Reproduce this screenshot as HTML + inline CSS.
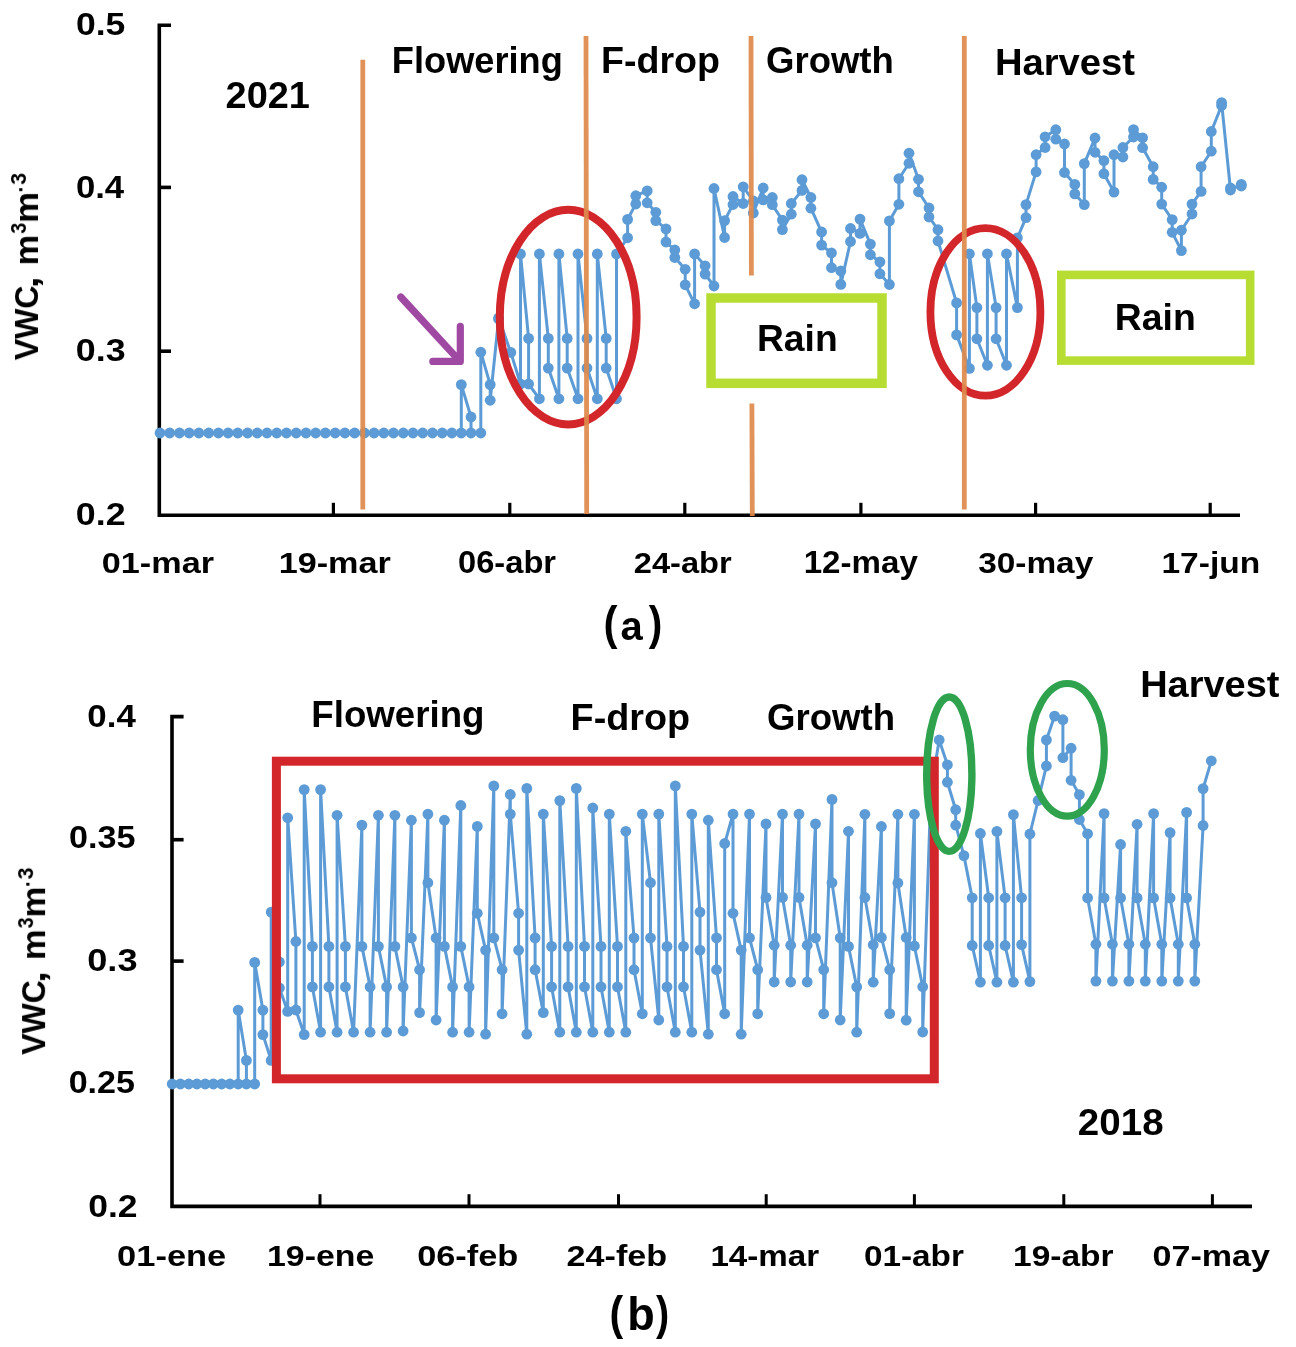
<!DOCTYPE html>
<html><head><meta charset="utf-8"><title>VWC chart</title>
<style>
html,body{margin:0;padding:0;background:#fff;}
body{width:1296px;height:1347px;overflow:hidden;font-family:"Liberation Sans",sans-serif;}
svg{display:block;font-family:"Liberation Sans",sans-serif;}
text{fill:#000;font-family:"Liberation Sans",sans-serif;}
</style></head><body>
<svg width="1296" height="1347" viewBox="0 0 1296 1347">
<defs><filter id="soft" filterUnits="userSpaceOnUse" x="0" y="0" width="1296" height="1347"><feGaussianBlur stdDeviation="0.4"/></filter></defs>
<rect width="1296" height="1347" fill="#fff"/>
<g filter="url(#soft)">
<path d="M171,25.2 H159.3 V515.3 H1240" fill="none" stroke="#000" stroke-width="3.6"/>
<line x1="159" y1="187.4" x2="171" y2="187.4" stroke="#000" stroke-width="3.6"/>
<line x1="159" y1="351.2" x2="171" y2="351.2" stroke="#000" stroke-width="3.6"/>
<line x1="333.4" y1="515" x2="333.4" y2="502.8" stroke="#000" stroke-width="3.2"/>
<line x1="509.8" y1="515" x2="509.8" y2="502.8" stroke="#000" stroke-width="3.2"/>
<line x1="684.8" y1="515" x2="684.8" y2="502.8" stroke="#000" stroke-width="3.2"/>
<line x1="860.9" y1="515" x2="860.9" y2="502.8" stroke="#000" stroke-width="3.2"/>
<line x1="1035.6" y1="515" x2="1035.6" y2="502.8" stroke="#000" stroke-width="3.2"/>
<line x1="1210.2" y1="515" x2="1210.2" y2="502.8" stroke="#000" stroke-width="3.2"/>
<path d="M160.0,433.0 L169.7,433.0 L179.5,433.0 L189.2,433.0 L198.9,433.0 L208.7,433.0 L218.4,433.0 L228.1,433.0 L237.8,433.0 L247.6,433.0 L257.3,433.0 L267.0,433.0 L276.8,433.0 L286.5,433.0 L296.2,433.0 L306.0,433.0 L315.7,433.0 L325.4,433.0 L335.2,433.0 L344.9,433.0 L354.6,433.0 L364.4,433.0 L374.1,433.0 L383.8,433.0 L393.5,433.0 L403.3,433.0 L413.0,433.0 L422.7,433.0 L432.5,433.0 L442.2,433.0 L451.9,433.0 L461.3,433.0 L461.3,384.6 L471.0,417.0 L471.0,433.0 L480.8,433.0 L480.8,352.2 L490.2,384.6 L490.2,400.3 L498.6,319.0 L498.6,318.0 L510.8,352.4 L520.5,384.0 L520.5,254.0 L528.6,338.4 L528.6,384.0 L539.4,398.8 L539.4,254.0 L548.3,338.4 L548.3,368.1 L558.9,398.8 L558.9,254.0 L567.2,338.4 L567.2,368.1 L578.0,398.8 L578.0,254.0 L587.0,338.4 L587.0,368.1 L597.3,398.8 L597.3,254.0 L606.2,338.4 L606.2,368.1 L616.5,398.8 L616.5,254.0 L627.6,237.8 L627.6,219.4 L635.8,204.0 L635.8,195.7 L647.2,190.9 L647.2,202.8 L655.8,212.3 L655.8,220.6 L666.0,228.9 L666.0,242.0 L674.8,250.0 L674.8,257.5 L685.2,269.3 L685.2,284.8 L694.6,303.8 L694.6,253.9 L705.1,265.8 L705.1,274.1 L714.0,286.0 L714.0,188.5 L724.6,237.5 L724.6,220.6 L733.0,204.5 L733.0,196.5 L743.2,203.5 L743.2,186.8 L753.3,201.0 L753.3,213.0 L763.2,188.0 L763.2,199.9 L772.3,197.5 L772.3,204.7 L782.4,220.1 L782.4,229.6 L791.3,214.2 L791.3,203.5 L802.0,190.4 L802.0,179.7 L810.9,197.5 L810.9,208.2 L821.6,232.0 L821.6,245.1 L831.5,253.0 L831.5,267.7 L840.8,271.0 L840.8,284.4 L850.5,241.5 L850.5,228.5 L860.0,233.4 L860.0,219.1 L870.4,244.1 L870.4,254.8 L879.9,261.9 L879.9,273.8 L889.4,284.5 L889.4,220.9 L898.9,204.3 L898.9,178.7 L909.0,163.3 L909.0,153.2 L918.5,179.3 L918.5,191.8 L929.0,208.0 L929.0,217.0 L938.0,229.7 L938.0,241.0 L956.6,302.9 L956.6,334.9 L969.4,368.4 L969.4,253.8 L976.9,307.6 L976.9,338.8 L987.4,365.3 L987.4,253.8 L996.1,307.6 L996.1,338.8 L1006.5,365.3 L1006.5,253.8 L1017.4,307.6 L1017.4,237.8 L1026.0,217.6 L1026.0,204.6 L1036.1,171.9 L1036.1,154.7 L1045.1,147.5 L1045.1,136.8 L1055.8,129.7 L1055.8,139.2 L1064.5,144.0 L1064.5,172.5 L1074.8,184.4 L1074.8,193.9 L1084.3,204.6 L1084.3,163.6 L1095.0,138.0 L1095.0,152.3 L1103.9,160.6 L1103.9,173.7 L1114.0,192.1 L1114.0,154.7 L1122.9,157.0 L1122.9,147.5 L1133.5,137.0 L1133.5,129.6 L1142.6,137.8 L1142.6,147.7 L1153.2,166.7 L1153.2,179.4 L1161.7,187.2 L1161.7,204.1 L1172.2,219.6 L1172.2,232.3 L1181.4,250.6 L1181.4,230.2 L1192.0,214.0 L1192.0,204.1 L1201.1,191.4 L1201.1,166.7 L1211.3,151.2 L1211.3,131.5 L1221.6,105.5 L1221.6,102.6 L1230.5,190.0 L1230.5,188.0 L1241.3,186.0 L1241.3,184.3" fill="none" stroke="#5b9bd5" stroke-width="3.0" stroke-linejoin="round"/>
<g fill="#5b9bd5"><circle cx="160.0" cy="433.0" r="5.4"/><circle cx="169.7" cy="433.0" r="5.4"/><circle cx="179.5" cy="433.0" r="5.4"/><circle cx="189.2" cy="433.0" r="5.4"/><circle cx="198.9" cy="433.0" r="5.4"/><circle cx="208.7" cy="433.0" r="5.4"/><circle cx="218.4" cy="433.0" r="5.4"/><circle cx="228.1" cy="433.0" r="5.4"/><circle cx="237.8" cy="433.0" r="5.4"/><circle cx="247.6" cy="433.0" r="5.4"/><circle cx="257.3" cy="433.0" r="5.4"/><circle cx="267.0" cy="433.0" r="5.4"/><circle cx="276.8" cy="433.0" r="5.4"/><circle cx="286.5" cy="433.0" r="5.4"/><circle cx="296.2" cy="433.0" r="5.4"/><circle cx="306.0" cy="433.0" r="5.4"/><circle cx="315.7" cy="433.0" r="5.4"/><circle cx="325.4" cy="433.0" r="5.4"/><circle cx="335.2" cy="433.0" r="5.4"/><circle cx="344.9" cy="433.0" r="5.4"/><circle cx="354.6" cy="433.0" r="5.4"/><circle cx="364.4" cy="433.0" r="5.4"/><circle cx="374.1" cy="433.0" r="5.4"/><circle cx="383.8" cy="433.0" r="5.4"/><circle cx="393.5" cy="433.0" r="5.4"/><circle cx="403.3" cy="433.0" r="5.4"/><circle cx="413.0" cy="433.0" r="5.4"/><circle cx="422.7" cy="433.0" r="5.4"/><circle cx="432.5" cy="433.0" r="5.4"/><circle cx="442.2" cy="433.0" r="5.4"/><circle cx="451.9" cy="433.0" r="5.4"/><circle cx="461.3" cy="433.0" r="5.4"/><circle cx="461.3" cy="384.6" r="5.4"/><circle cx="471.0" cy="417.0" r="5.4"/><circle cx="471.0" cy="433.0" r="5.4"/><circle cx="480.8" cy="433.0" r="5.4"/><circle cx="480.8" cy="352.2" r="5.4"/><circle cx="490.2" cy="384.6" r="5.4"/><circle cx="490.2" cy="400.3" r="5.4"/><circle cx="498.6" cy="319.0" r="5.4"/><circle cx="498.6" cy="318.0" r="5.4"/><circle cx="510.8" cy="352.4" r="5.4"/><circle cx="520.5" cy="384.0" r="5.4"/><circle cx="520.5" cy="254.0" r="5.4"/><circle cx="528.6" cy="338.4" r="5.4"/><circle cx="528.6" cy="384.0" r="5.4"/><circle cx="539.4" cy="398.8" r="5.4"/><circle cx="539.4" cy="254.0" r="5.4"/><circle cx="548.3" cy="338.4" r="5.4"/><circle cx="548.3" cy="368.1" r="5.4"/><circle cx="558.9" cy="398.8" r="5.4"/><circle cx="558.9" cy="254.0" r="5.4"/><circle cx="567.2" cy="338.4" r="5.4"/><circle cx="567.2" cy="368.1" r="5.4"/><circle cx="578.0" cy="398.8" r="5.4"/><circle cx="578.0" cy="254.0" r="5.4"/><circle cx="587.0" cy="338.4" r="5.4"/><circle cx="587.0" cy="368.1" r="5.4"/><circle cx="597.3" cy="398.8" r="5.4"/><circle cx="597.3" cy="254.0" r="5.4"/><circle cx="606.2" cy="338.4" r="5.4"/><circle cx="606.2" cy="368.1" r="5.4"/><circle cx="616.5" cy="398.8" r="5.4"/><circle cx="616.5" cy="254.0" r="5.4"/><circle cx="627.6" cy="237.8" r="5.4"/><circle cx="627.6" cy="219.4" r="5.4"/><circle cx="635.8" cy="204.0" r="5.4"/><circle cx="635.8" cy="195.7" r="5.4"/><circle cx="647.2" cy="190.9" r="5.4"/><circle cx="647.2" cy="202.8" r="5.4"/><circle cx="655.8" cy="212.3" r="5.4"/><circle cx="655.8" cy="220.6" r="5.4"/><circle cx="666.0" cy="228.9" r="5.4"/><circle cx="666.0" cy="242.0" r="5.4"/><circle cx="674.8" cy="250.0" r="5.4"/><circle cx="674.8" cy="257.5" r="5.4"/><circle cx="685.2" cy="269.3" r="5.4"/><circle cx="685.2" cy="284.8" r="5.4"/><circle cx="694.6" cy="303.8" r="5.4"/><circle cx="694.6" cy="253.9" r="5.4"/><circle cx="705.1" cy="265.8" r="5.4"/><circle cx="705.1" cy="274.1" r="5.4"/><circle cx="714.0" cy="286.0" r="5.4"/><circle cx="714.0" cy="188.5" r="5.4"/><circle cx="724.6" cy="237.5" r="5.4"/><circle cx="724.6" cy="220.6" r="5.4"/><circle cx="733.0" cy="204.5" r="5.4"/><circle cx="733.0" cy="196.5" r="5.4"/><circle cx="743.2" cy="203.5" r="5.4"/><circle cx="743.2" cy="186.8" r="5.4"/><circle cx="753.3" cy="201.0" r="5.4"/><circle cx="753.3" cy="213.0" r="5.4"/><circle cx="763.2" cy="188.0" r="5.4"/><circle cx="763.2" cy="199.9" r="5.4"/><circle cx="772.3" cy="197.5" r="5.4"/><circle cx="772.3" cy="204.7" r="5.4"/><circle cx="782.4" cy="220.1" r="5.4"/><circle cx="782.4" cy="229.6" r="5.4"/><circle cx="791.3" cy="214.2" r="5.4"/><circle cx="791.3" cy="203.5" r="5.4"/><circle cx="802.0" cy="190.4" r="5.4"/><circle cx="802.0" cy="179.7" r="5.4"/><circle cx="810.9" cy="197.5" r="5.4"/><circle cx="810.9" cy="208.2" r="5.4"/><circle cx="821.6" cy="232.0" r="5.4"/><circle cx="821.6" cy="245.1" r="5.4"/><circle cx="831.5" cy="253.0" r="5.4"/><circle cx="831.5" cy="267.7" r="5.4"/><circle cx="840.8" cy="271.0" r="5.4"/><circle cx="840.8" cy="284.4" r="5.4"/><circle cx="850.5" cy="241.5" r="5.4"/><circle cx="850.5" cy="228.5" r="5.4"/><circle cx="860.0" cy="233.4" r="5.4"/><circle cx="860.0" cy="219.1" r="5.4"/><circle cx="870.4" cy="244.1" r="5.4"/><circle cx="870.4" cy="254.8" r="5.4"/><circle cx="879.9" cy="261.9" r="5.4"/><circle cx="879.9" cy="273.8" r="5.4"/><circle cx="889.4" cy="284.5" r="5.4"/><circle cx="889.4" cy="220.9" r="5.4"/><circle cx="898.9" cy="204.3" r="5.4"/><circle cx="898.9" cy="178.7" r="5.4"/><circle cx="909.0" cy="163.3" r="5.4"/><circle cx="909.0" cy="153.2" r="5.4"/><circle cx="918.5" cy="179.3" r="5.4"/><circle cx="918.5" cy="191.8" r="5.4"/><circle cx="929.0" cy="208.0" r="5.4"/><circle cx="929.0" cy="217.0" r="5.4"/><circle cx="938.0" cy="229.7" r="5.4"/><circle cx="938.0" cy="241.0" r="5.4"/><circle cx="956.6" cy="302.9" r="5.4"/><circle cx="956.6" cy="334.9" r="5.4"/><circle cx="969.4" cy="368.4" r="5.4"/><circle cx="969.4" cy="253.8" r="5.4"/><circle cx="976.9" cy="307.6" r="5.4"/><circle cx="976.9" cy="338.8" r="5.4"/><circle cx="987.4" cy="365.3" r="5.4"/><circle cx="987.4" cy="253.8" r="5.4"/><circle cx="996.1" cy="307.6" r="5.4"/><circle cx="996.1" cy="338.8" r="5.4"/><circle cx="1006.5" cy="365.3" r="5.4"/><circle cx="1006.5" cy="253.8" r="5.4"/><circle cx="1017.4" cy="307.6" r="5.4"/><circle cx="1017.4" cy="237.8" r="5.4"/><circle cx="1026.0" cy="217.6" r="5.4"/><circle cx="1026.0" cy="204.6" r="5.4"/><circle cx="1036.1" cy="171.9" r="5.4"/><circle cx="1036.1" cy="154.7" r="5.4"/><circle cx="1045.1" cy="147.5" r="5.4"/><circle cx="1045.1" cy="136.8" r="5.4"/><circle cx="1055.8" cy="129.7" r="5.4"/><circle cx="1055.8" cy="139.2" r="5.4"/><circle cx="1064.5" cy="144.0" r="5.4"/><circle cx="1064.5" cy="172.5" r="5.4"/><circle cx="1074.8" cy="184.4" r="5.4"/><circle cx="1074.8" cy="193.9" r="5.4"/><circle cx="1084.3" cy="204.6" r="5.4"/><circle cx="1084.3" cy="163.6" r="5.4"/><circle cx="1095.0" cy="138.0" r="5.4"/><circle cx="1095.0" cy="152.3" r="5.4"/><circle cx="1103.9" cy="160.6" r="5.4"/><circle cx="1103.9" cy="173.7" r="5.4"/><circle cx="1114.0" cy="192.1" r="5.4"/><circle cx="1114.0" cy="154.7" r="5.4"/><circle cx="1122.9" cy="157.0" r="5.4"/><circle cx="1122.9" cy="147.5" r="5.4"/><circle cx="1133.5" cy="137.0" r="5.4"/><circle cx="1133.5" cy="129.6" r="5.4"/><circle cx="1142.6" cy="137.8" r="5.4"/><circle cx="1142.6" cy="147.7" r="5.4"/><circle cx="1153.2" cy="166.7" r="5.4"/><circle cx="1153.2" cy="179.4" r="5.4"/><circle cx="1161.7" cy="187.2" r="5.4"/><circle cx="1161.7" cy="204.1" r="5.4"/><circle cx="1172.2" cy="219.6" r="5.4"/><circle cx="1172.2" cy="232.3" r="5.4"/><circle cx="1181.4" cy="250.6" r="5.4"/><circle cx="1181.4" cy="230.2" r="5.4"/><circle cx="1192.0" cy="214.0" r="5.4"/><circle cx="1192.0" cy="204.1" r="5.4"/><circle cx="1201.1" cy="191.4" r="5.4"/><circle cx="1201.1" cy="166.7" r="5.4"/><circle cx="1211.3" cy="151.2" r="5.4"/><circle cx="1211.3" cy="131.5" r="5.4"/><circle cx="1221.6" cy="105.5" r="5.4"/><circle cx="1221.6" cy="102.6" r="5.4"/><circle cx="1230.5" cy="190.0" r="5.4"/><circle cx="1230.5" cy="188.0" r="5.4"/><circle cx="1241.3" cy="186.0" r="5.4"/><circle cx="1241.3" cy="184.3" r="5.4"/></g>
<rect x="711" y="298" width="171" height="85.3" fill="#fff" stroke="#b7dd33" stroke-width="9.5"/>
<rect x="1061.3" y="274.9" width="188.9" height="85.7" fill="#fff" stroke="#b7dd33" stroke-width="8.6"/>
<ellipse cx="568.2" cy="317.1" rx="68.4" ry="107.3" fill="none" stroke="#d2252c" stroke-width="8"/>
<ellipse cx="985.4" cy="311.9" rx="55" ry="83.8" fill="none" stroke="#d2252c" stroke-width="7.8"/>
<line x1="362.8" y1="59.7" x2="362.8" y2="509.4" stroke="#de8a4b" stroke-width="4.8" stroke-opacity="0.93"/>
<line x1="586" y1="36" x2="586.7" y2="514" stroke="#de8a4b" stroke-width="4.8" stroke-opacity="0.93"/>
<line x1="751" y1="36" x2="751.4" y2="275.4" stroke="#de8a4b" stroke-width="4.8" stroke-opacity="0.93"/>
<line x1="751.9" y1="403.5" x2="752.3" y2="516" stroke="#de8a4b" stroke-width="4.8" stroke-opacity="0.93"/>
<line x1="964.3" y1="36" x2="964.3" y2="509.5" stroke="#de8a4b" stroke-width="4.8" stroke-opacity="0.93"/>
<path d="M400.8,297 L457.5,358.6 M432.8,361.4 H460.3 V326.3" fill="none" stroke="#a048a2" stroke-width="7.2" stroke-linecap="round" stroke-linejoin="round"/>
<path d="M183.6,716.6 H172 V1206.4 H1252" fill="none" stroke="#000" stroke-width="3.6"/>
<line x1="172" y1="839.7" x2="183.6" y2="839.7" stroke="#000" stroke-width="3.6"/>
<line x1="172" y1="961.1" x2="183.6" y2="961.1" stroke="#000" stroke-width="3.6"/>
<line x1="172" y1="1083" x2="183.6" y2="1083" stroke="#000" stroke-width="3.6"/>
<line x1="320" y1="1206" x2="320" y2="1194.2" stroke="#000" stroke-width="3"/>
<line x1="469" y1="1206" x2="469" y2="1194.2" stroke="#000" stroke-width="3"/>
<line x1="618.5" y1="1206" x2="618.5" y2="1194.2" stroke="#000" stroke-width="3"/>
<line x1="766.2" y1="1206" x2="766.2" y2="1194.2" stroke="#000" stroke-width="3"/>
<line x1="914.4" y1="1206" x2="914.4" y2="1194.2" stroke="#000" stroke-width="3"/>
<line x1="1063.8" y1="1206" x2="1063.8" y2="1194.2" stroke="#000" stroke-width="3"/>
<line x1="1212.4" y1="1206" x2="1212.4" y2="1194.2" stroke="#000" stroke-width="3"/>
<path d="M172.2,1084.0 L180.4,1084.0 L188.7,1084.0 L196.9,1084.0 L205.2,1084.0 L213.4,1084.0 L221.7,1084.0 L229.9,1084.0 L238.2,1084.0 L238.2,1010.1 L246.4,1060.4 L246.4,1084.0 L254.7,1084.0 L254.7,962.4 L262.9,1010.1 L262.9,1034.6 L271.2,1060.4 L271.2,912.1 L279.4,962.0 L279.4,988.0 L287.7,1011.4 L287.7,817.8 L295.9,941.5 L295.9,1010.0 L304.2,1034.6 L304.2,789.6 L312.4,946.4 L312.4,986.9 L320.6,1032.2 L320.6,789.6 L328.9,946.4 L328.9,986.9 L337.1,1032.2 L337.1,815.3 L345.4,946.4 L345.4,986.9 L353.6,1032.2 L361.9,825.1 L361.9,946.4 L370.1,986.9 L370.1,1032.2 L378.4,815.3 L378.4,946.4 L386.6,986.9 L386.6,1032.2 L394.9,815.3 L394.9,946.4 L403.1,986.9 L403.1,1031.0 L411.4,820.2 L411.4,937.9 L419.6,969.7 L419.6,1012.6 L427.9,814.1 L427.9,882.7 L436.1,937.9 L436.1,1020.0 L444.4,820.2 L444.4,946.4 L452.6,986.9 L452.6,1032.2 L460.8,805.5 L460.8,946.4 L469.1,986.9 L469.1,1032.2 L477.3,826.4 L477.3,913.3 L485.6,950.1 L485.6,1034.2 L493.8,785.9 L493.8,937.9 L502.1,969.7 L502.1,1013.8 L510.3,794.5 L510.3,814.1 L518.6,913.3 L518.6,950.1 L526.8,1034.2 L526.8,788.4 L535.1,937.9 L535.1,969.7 L543.3,1012.6 L543.3,814.1 L551.6,946.4 L551.6,986.9 L559.8,1032.2 L559.8,800.6 L568.1,946.4 L568.1,986.9 L576.3,1032.2 L576.3,788.4 L584.5,946.4 L584.5,986.9 L592.8,1032.2 L592.8,808.0 L601.0,946.4 L601.0,986.9 L609.3,1032.2 L609.3,814.1 L617.5,946.4 L617.5,986.9 L625.8,1032.2 L625.8,831.3 L634.0,937.9 L634.0,969.7 L642.3,1013.8 L642.3,814.1 L650.5,882.7 L650.5,937.9 L658.8,1020.0 L658.8,814.1 L667.0,946.4 L667.0,986.9 L675.3,1032.2 L675.3,785.9 L683.5,946.4 L683.5,986.9 L691.8,1032.2 L691.8,814.1 L700.0,912.1 L700.0,950.1 L708.3,1034.2 L708.3,820.2 L716.5,937.9 L716.5,969.7 L724.7,1013.8 L724.7,843.5 L733.0,814.1 L733.0,913.3 L741.2,950.1 L741.2,1034.2 L749.5,814.1 L749.5,937.9 L757.7,969.7 L757.7,1013.8 L766.0,823.9 L766.0,897.4 L774.2,945.2 L774.2,982.0 L782.5,814.1 L782.5,897.4 L790.7,945.2 L790.7,982.0 L799.0,814.1 L799.0,897.4 L807.2,945.2 L807.2,982.0 L815.5,823.9 L815.5,937.9 L823.7,969.7 L823.7,1013.8 L832.0,799.4 L832.0,882.7 L840.2,937.9 L840.2,1020.0 L848.5,831.3 L848.5,946.4 L856.7,986.9 L856.7,1032.2 L864.9,814.3 L864.9,897.5 L873.2,944.8 L873.2,982.2 L881.4,826.5 L881.4,937.5 L889.7,969.7 L889.7,1013.6 L897.9,814.3 L897.9,883.0 L906.2,937.5 L906.2,1020.2 L914.4,814.3 L914.4,946.0 L922.7,986.8 L922.7,1032.0 L930.9,790.0 L939.2,740.0 L947.4,764.8 L947.4,782.2 L955.7,809.7 L955.7,825.2 L963.9,855.6 L972.2,897.8 L972.2,945.5 L980.4,982.2 L980.4,833.5 L988.7,897.8 L988.7,945.5 L996.9,982.2 L996.9,831.4 L1005.1,897.8 L1005.1,945.5 L1013.4,982.2 L1013.4,814.6 L1021.6,897.8 L1021.6,944.6 L1029.9,981.6 L1029.9,834.0 L1038.1,800.5 L1046.4,766.0 L1046.4,739.9 L1054.6,716.1 L1062.9,719.7 L1062.9,757.7 L1071.1,748.2 L1071.1,780.3 L1079.4,794.6 L1079.4,819.5 L1087.6,833.8 L1087.6,897.9 L1095.9,944.3 L1095.9,981.1 L1104.1,813.6 L1104.1,897.9 L1112.4,944.3 L1112.4,981.1 L1120.6,844.5 L1120.6,897.9 L1128.9,944.3 L1128.9,981.1 L1137.1,824.3 L1137.1,897.9 L1145.3,944.3 L1145.3,981.1 L1153.6,813.6 L1153.6,897.9 L1161.8,944.3 L1161.8,981.1 L1170.1,832.6 L1170.1,897.9 L1178.3,944.3 L1178.3,981.1 L1186.6,812.4 L1186.6,897.9 L1194.8,944.3 L1194.8,981.1 L1203.1,825.5 L1203.1,788.6 L1211.3,760.8" fill="none" stroke="#5b9bd5" stroke-width="3.0" stroke-linejoin="round"/>
<g fill="#5b9bd5"><circle cx="172.2" cy="1084.0" r="5.4"/><circle cx="180.4" cy="1084.0" r="5.4"/><circle cx="188.7" cy="1084.0" r="5.4"/><circle cx="196.9" cy="1084.0" r="5.4"/><circle cx="205.2" cy="1084.0" r="5.4"/><circle cx="213.4" cy="1084.0" r="5.4"/><circle cx="221.7" cy="1084.0" r="5.4"/><circle cx="229.9" cy="1084.0" r="5.4"/><circle cx="238.2" cy="1084.0" r="5.4"/><circle cx="238.2" cy="1010.1" r="5.4"/><circle cx="246.4" cy="1060.4" r="5.4"/><circle cx="246.4" cy="1084.0" r="5.4"/><circle cx="254.7" cy="1084.0" r="5.4"/><circle cx="254.7" cy="962.4" r="5.4"/><circle cx="262.9" cy="1010.1" r="5.4"/><circle cx="262.9" cy="1034.6" r="5.4"/><circle cx="271.2" cy="1060.4" r="5.4"/><circle cx="271.2" cy="912.1" r="5.4"/><circle cx="279.4" cy="962.0" r="5.4"/><circle cx="279.4" cy="988.0" r="5.4"/><circle cx="287.7" cy="1011.4" r="5.4"/><circle cx="287.7" cy="817.8" r="5.4"/><circle cx="295.9" cy="941.5" r="5.4"/><circle cx="295.9" cy="1010.0" r="5.4"/><circle cx="304.2" cy="1034.6" r="5.4"/><circle cx="304.2" cy="789.6" r="5.4"/><circle cx="312.4" cy="946.4" r="5.4"/><circle cx="312.4" cy="986.9" r="5.4"/><circle cx="320.6" cy="1032.2" r="5.4"/><circle cx="320.6" cy="789.6" r="5.4"/><circle cx="328.9" cy="946.4" r="5.4"/><circle cx="328.9" cy="986.9" r="5.4"/><circle cx="337.1" cy="1032.2" r="5.4"/><circle cx="337.1" cy="815.3" r="5.4"/><circle cx="345.4" cy="946.4" r="5.4"/><circle cx="345.4" cy="986.9" r="5.4"/><circle cx="353.6" cy="1032.2" r="5.4"/><circle cx="361.9" cy="825.1" r="5.4"/><circle cx="361.9" cy="946.4" r="5.4"/><circle cx="370.1" cy="986.9" r="5.4"/><circle cx="370.1" cy="1032.2" r="5.4"/><circle cx="378.4" cy="815.3" r="5.4"/><circle cx="378.4" cy="946.4" r="5.4"/><circle cx="386.6" cy="986.9" r="5.4"/><circle cx="386.6" cy="1032.2" r="5.4"/><circle cx="394.9" cy="815.3" r="5.4"/><circle cx="394.9" cy="946.4" r="5.4"/><circle cx="403.1" cy="986.9" r="5.4"/><circle cx="403.1" cy="1031.0" r="5.4"/><circle cx="411.4" cy="820.2" r="5.4"/><circle cx="411.4" cy="937.9" r="5.4"/><circle cx="419.6" cy="969.7" r="5.4"/><circle cx="419.6" cy="1012.6" r="5.4"/><circle cx="427.9" cy="814.1" r="5.4"/><circle cx="427.9" cy="882.7" r="5.4"/><circle cx="436.1" cy="937.9" r="5.4"/><circle cx="436.1" cy="1020.0" r="5.4"/><circle cx="444.4" cy="820.2" r="5.4"/><circle cx="444.4" cy="946.4" r="5.4"/><circle cx="452.6" cy="986.9" r="5.4"/><circle cx="452.6" cy="1032.2" r="5.4"/><circle cx="460.8" cy="805.5" r="5.4"/><circle cx="460.8" cy="946.4" r="5.4"/><circle cx="469.1" cy="986.9" r="5.4"/><circle cx="469.1" cy="1032.2" r="5.4"/><circle cx="477.3" cy="826.4" r="5.4"/><circle cx="477.3" cy="913.3" r="5.4"/><circle cx="485.6" cy="950.1" r="5.4"/><circle cx="485.6" cy="1034.2" r="5.4"/><circle cx="493.8" cy="785.9" r="5.4"/><circle cx="493.8" cy="937.9" r="5.4"/><circle cx="502.1" cy="969.7" r="5.4"/><circle cx="502.1" cy="1013.8" r="5.4"/><circle cx="510.3" cy="794.5" r="5.4"/><circle cx="510.3" cy="814.1" r="5.4"/><circle cx="518.6" cy="913.3" r="5.4"/><circle cx="518.6" cy="950.1" r="5.4"/><circle cx="526.8" cy="1034.2" r="5.4"/><circle cx="526.8" cy="788.4" r="5.4"/><circle cx="535.1" cy="937.9" r="5.4"/><circle cx="535.1" cy="969.7" r="5.4"/><circle cx="543.3" cy="1012.6" r="5.4"/><circle cx="543.3" cy="814.1" r="5.4"/><circle cx="551.6" cy="946.4" r="5.4"/><circle cx="551.6" cy="986.9" r="5.4"/><circle cx="559.8" cy="1032.2" r="5.4"/><circle cx="559.8" cy="800.6" r="5.4"/><circle cx="568.1" cy="946.4" r="5.4"/><circle cx="568.1" cy="986.9" r="5.4"/><circle cx="576.3" cy="1032.2" r="5.4"/><circle cx="576.3" cy="788.4" r="5.4"/><circle cx="584.5" cy="946.4" r="5.4"/><circle cx="584.5" cy="986.9" r="5.4"/><circle cx="592.8" cy="1032.2" r="5.4"/><circle cx="592.8" cy="808.0" r="5.4"/><circle cx="601.0" cy="946.4" r="5.4"/><circle cx="601.0" cy="986.9" r="5.4"/><circle cx="609.3" cy="1032.2" r="5.4"/><circle cx="609.3" cy="814.1" r="5.4"/><circle cx="617.5" cy="946.4" r="5.4"/><circle cx="617.5" cy="986.9" r="5.4"/><circle cx="625.8" cy="1032.2" r="5.4"/><circle cx="625.8" cy="831.3" r="5.4"/><circle cx="634.0" cy="937.9" r="5.4"/><circle cx="634.0" cy="969.7" r="5.4"/><circle cx="642.3" cy="1013.8" r="5.4"/><circle cx="642.3" cy="814.1" r="5.4"/><circle cx="650.5" cy="882.7" r="5.4"/><circle cx="650.5" cy="937.9" r="5.4"/><circle cx="658.8" cy="1020.0" r="5.4"/><circle cx="658.8" cy="814.1" r="5.4"/><circle cx="667.0" cy="946.4" r="5.4"/><circle cx="667.0" cy="986.9" r="5.4"/><circle cx="675.3" cy="1032.2" r="5.4"/><circle cx="675.3" cy="785.9" r="5.4"/><circle cx="683.5" cy="946.4" r="5.4"/><circle cx="683.5" cy="986.9" r="5.4"/><circle cx="691.8" cy="1032.2" r="5.4"/><circle cx="691.8" cy="814.1" r="5.4"/><circle cx="700.0" cy="912.1" r="5.4"/><circle cx="700.0" cy="950.1" r="5.4"/><circle cx="708.3" cy="1034.2" r="5.4"/><circle cx="708.3" cy="820.2" r="5.4"/><circle cx="716.5" cy="937.9" r="5.4"/><circle cx="716.5" cy="969.7" r="5.4"/><circle cx="724.7" cy="1013.8" r="5.4"/><circle cx="724.7" cy="843.5" r="5.4"/><circle cx="733.0" cy="814.1" r="5.4"/><circle cx="733.0" cy="913.3" r="5.4"/><circle cx="741.2" cy="950.1" r="5.4"/><circle cx="741.2" cy="1034.2" r="5.4"/><circle cx="749.5" cy="814.1" r="5.4"/><circle cx="749.5" cy="937.9" r="5.4"/><circle cx="757.7" cy="969.7" r="5.4"/><circle cx="757.7" cy="1013.8" r="5.4"/><circle cx="766.0" cy="823.9" r="5.4"/><circle cx="766.0" cy="897.4" r="5.4"/><circle cx="774.2" cy="945.2" r="5.4"/><circle cx="774.2" cy="982.0" r="5.4"/><circle cx="782.5" cy="814.1" r="5.4"/><circle cx="782.5" cy="897.4" r="5.4"/><circle cx="790.7" cy="945.2" r="5.4"/><circle cx="790.7" cy="982.0" r="5.4"/><circle cx="799.0" cy="814.1" r="5.4"/><circle cx="799.0" cy="897.4" r="5.4"/><circle cx="807.2" cy="945.2" r="5.4"/><circle cx="807.2" cy="982.0" r="5.4"/><circle cx="815.5" cy="823.9" r="5.4"/><circle cx="815.5" cy="937.9" r="5.4"/><circle cx="823.7" cy="969.7" r="5.4"/><circle cx="823.7" cy="1013.8" r="5.4"/><circle cx="832.0" cy="799.4" r="5.4"/><circle cx="832.0" cy="882.7" r="5.4"/><circle cx="840.2" cy="937.9" r="5.4"/><circle cx="840.2" cy="1020.0" r="5.4"/><circle cx="848.5" cy="831.3" r="5.4"/><circle cx="848.5" cy="946.4" r="5.4"/><circle cx="856.7" cy="986.9" r="5.4"/><circle cx="856.7" cy="1032.2" r="5.4"/><circle cx="864.9" cy="814.3" r="5.4"/><circle cx="864.9" cy="897.5" r="5.4"/><circle cx="873.2" cy="944.8" r="5.4"/><circle cx="873.2" cy="982.2" r="5.4"/><circle cx="881.4" cy="826.5" r="5.4"/><circle cx="881.4" cy="937.5" r="5.4"/><circle cx="889.7" cy="969.7" r="5.4"/><circle cx="889.7" cy="1013.6" r="5.4"/><circle cx="897.9" cy="814.3" r="5.4"/><circle cx="897.9" cy="883.0" r="5.4"/><circle cx="906.2" cy="937.5" r="5.4"/><circle cx="906.2" cy="1020.2" r="5.4"/><circle cx="914.4" cy="814.3" r="5.4"/><circle cx="914.4" cy="946.0" r="5.4"/><circle cx="922.7" cy="986.8" r="5.4"/><circle cx="922.7" cy="1032.0" r="5.4"/><circle cx="930.9" cy="790.0" r="5.4"/><circle cx="939.2" cy="740.0" r="5.4"/><circle cx="947.4" cy="764.8" r="5.4"/><circle cx="947.4" cy="782.2" r="5.4"/><circle cx="955.7" cy="809.7" r="5.4"/><circle cx="955.7" cy="825.2" r="5.4"/><circle cx="963.9" cy="855.6" r="5.4"/><circle cx="972.2" cy="897.8" r="5.4"/><circle cx="972.2" cy="945.5" r="5.4"/><circle cx="980.4" cy="982.2" r="5.4"/><circle cx="980.4" cy="833.5" r="5.4"/><circle cx="988.7" cy="897.8" r="5.4"/><circle cx="988.7" cy="945.5" r="5.4"/><circle cx="996.9" cy="982.2" r="5.4"/><circle cx="996.9" cy="831.4" r="5.4"/><circle cx="1005.1" cy="897.8" r="5.4"/><circle cx="1005.1" cy="945.5" r="5.4"/><circle cx="1013.4" cy="982.2" r="5.4"/><circle cx="1013.4" cy="814.6" r="5.4"/><circle cx="1021.6" cy="897.8" r="5.4"/><circle cx="1021.6" cy="944.6" r="5.4"/><circle cx="1029.9" cy="981.6" r="5.4"/><circle cx="1029.9" cy="834.0" r="5.4"/><circle cx="1038.1" cy="800.5" r="5.4"/><circle cx="1046.4" cy="766.0" r="5.4"/><circle cx="1046.4" cy="739.9" r="5.4"/><circle cx="1054.6" cy="716.1" r="5.4"/><circle cx="1062.9" cy="719.7" r="5.4"/><circle cx="1062.9" cy="757.7" r="5.4"/><circle cx="1071.1" cy="748.2" r="5.4"/><circle cx="1071.1" cy="780.3" r="5.4"/><circle cx="1079.4" cy="794.6" r="5.4"/><circle cx="1079.4" cy="819.5" r="5.4"/><circle cx="1087.6" cy="833.8" r="5.4"/><circle cx="1087.6" cy="897.9" r="5.4"/><circle cx="1095.9" cy="944.3" r="5.4"/><circle cx="1095.9" cy="981.1" r="5.4"/><circle cx="1104.1" cy="813.6" r="5.4"/><circle cx="1104.1" cy="897.9" r="5.4"/><circle cx="1112.4" cy="944.3" r="5.4"/><circle cx="1112.4" cy="981.1" r="5.4"/><circle cx="1120.6" cy="844.5" r="5.4"/><circle cx="1120.6" cy="897.9" r="5.4"/><circle cx="1128.9" cy="944.3" r="5.4"/><circle cx="1128.9" cy="981.1" r="5.4"/><circle cx="1137.1" cy="824.3" r="5.4"/><circle cx="1137.1" cy="897.9" r="5.4"/><circle cx="1145.3" cy="944.3" r="5.4"/><circle cx="1145.3" cy="981.1" r="5.4"/><circle cx="1153.6" cy="813.6" r="5.4"/><circle cx="1153.6" cy="897.9" r="5.4"/><circle cx="1161.8" cy="944.3" r="5.4"/><circle cx="1161.8" cy="981.1" r="5.4"/><circle cx="1170.1" cy="832.6" r="5.4"/><circle cx="1170.1" cy="897.9" r="5.4"/><circle cx="1178.3" cy="944.3" r="5.4"/><circle cx="1178.3" cy="981.1" r="5.4"/><circle cx="1186.6" cy="812.4" r="5.4"/><circle cx="1186.6" cy="897.9" r="5.4"/><circle cx="1194.8" cy="944.3" r="5.4"/><circle cx="1194.8" cy="981.1" r="5.4"/><circle cx="1203.1" cy="825.5" r="5.4"/><circle cx="1203.1" cy="788.6" r="5.4"/><circle cx="1211.3" cy="760.8" r="5.4"/></g>
<rect x="276.4" y="761.2" width="657.9" height="317.6" fill="none" stroke="#d2252c" stroke-width="9"/>
<ellipse cx="949.3" cy="774.2" rx="22.6" ry="77.2" fill="none" stroke="#2fa24e" stroke-width="7.4"/>
<ellipse cx="1067.3" cy="749.8" rx="37" ry="66.3" fill="none" stroke="#2fa24e" stroke-width="7.2"/>
<text transform="translate(75.88,35.19) scale(0.3553,0.3099)" font-size="100" font-weight="bold">0.5</text>
<text transform="translate(75.91,197.59) scale(0.3474,0.3099)" font-size="100" font-weight="bold">0.4</text>
<text transform="translate(75.87,361.39) scale(0.3580,0.3099)" font-size="100" font-weight="bold">0.3</text>
<text transform="translate(75.87,525.39) scale(0.3580,0.3099)" font-size="100" font-weight="bold">0.2</text>
<text transform="translate(101.83,572.70) scale(0.3422,0.3042)" font-size="100" font-weight="bold">01-mar</text>
<text transform="translate(278.65,572.70) scale(0.3422,0.3042)" font-size="100" font-weight="bold">19-mar</text>
<text transform="translate(457.99,572.70) scale(0.3268,0.3042)" font-size="100" font-weight="bold">06-abr</text>
<text transform="translate(633.82,572.70) scale(0.3260,0.3042)" font-size="100" font-weight="bold">24-abr</text>
<text transform="translate(803.71,572.70) scale(0.3311,0.3042)" font-size="100" font-weight="bold">12-may</text>
<text transform="translate(978.13,572.70) scale(0.3342,0.3042)" font-size="100" font-weight="bold">30-may</text>
<text transform="translate(1161.39,572.70) scale(0.3358,0.3042)" font-size="100" font-weight="bold">17-jun</text>
<text transform="translate(225.56,107.64) scale(0.3793,0.3620)" font-size="100" font-weight="bold">2021</text>
<text transform="translate(391.87,73.00) scale(0.3621,0.3739)" font-size="100" font-weight="bold">Flowering</text>
<text transform="translate(600.97,73.00) scale(0.3761,0.3739)" font-size="100" font-weight="bold">F-drop</text>
<text transform="translate(766.04,73.00) scale(0.3653,0.3739)" font-size="100" font-weight="bold">Growth</text>
<text transform="translate(994.93,75.30) scale(0.3819,0.3754)" font-size="100" font-weight="bold">Harvest</text>
<text transform="translate(756.99,350.80) scale(0.3724,0.3710)" font-size="100" font-weight="bold">Rain</text>
<text transform="translate(1114.78,329.80) scale(0.3739,0.3768)" font-size="100" font-weight="bold">Rain</text>
<text transform="translate(603.49,638.91) scale(0.4214,0.4660)" font-size="100" font-weight="bold">(</text>
<text transform="translate(620.40,639.89) scale(0.4000,0.4091)" font-size="100" font-weight="bold">a</text>
<text transform="translate(648.70,638.91) scale(0.4071,0.4660)" font-size="100" font-weight="bold">)</text>
<g transform="translate(0.0,360.2) rotate(-90)">
<text transform="translate(-0.12,37.70) scale(0.3210,0.3333)" font-size="100" font-weight="bold">VWC</text>
<text transform="translate(71.85,37.70) scale(0.4357,0.3333)" font-size="100" font-weight="bold">,</text>
<text transform="translate(94.79,37.70) scale(0.3447,0.3396)" font-size="100" font-weight="bold">m</text>
<text transform="translate(137.26,37.70) scale(0.3487,0.3396)" font-size="100" font-weight="bold">m</text>
<text transform="translate(126.61,26.27) scale(0.1960,0.2296)" font-size="100" font-weight="bold">3</text>
<text transform="translate(175.58,26.27) scale(0.2120,0.2296)" font-size="100" font-weight="bold">3</text>
<rect x="169.1" y="19.2" width="2.9" height="3.2" fill="#000"/>
</g>
<text transform="translate(87.30,726.69) scale(0.3489,0.3141)" font-size="100" font-weight="bold">0.4</text>
<text transform="translate(68.93,848.09) scale(0.3415,0.3141)" font-size="100" font-weight="bold">0.35</text>
<text transform="translate(87.25,971.09) scale(0.3618,0.3141)" font-size="100" font-weight="bold">0.3</text>
<text transform="translate(68.64,1093.19) scale(0.3410,0.3141)" font-size="100" font-weight="bold">0.25</text>
<text transform="translate(88.28,1216.89) scale(0.3550,0.3141)" font-size="100" font-weight="bold">0.2</text>
<text transform="translate(117.12,1266.10) scale(0.3447,0.3000)" font-size="100" font-weight="bold">01-ene</text>
<text transform="translate(266.97,1266.10) scale(0.3388,0.3000)" font-size="100" font-weight="bold">19-ene</text>
<text transform="translate(417.13,1266.10) scale(0.3434,0.3000)" font-size="100" font-weight="bold">06-feb</text>
<text transform="translate(566.57,1266.10) scale(0.3418,0.3000)" font-size="100" font-weight="bold">24-feb</text>
<text transform="translate(710.41,1266.10) scale(0.3319,0.3000)" font-size="100" font-weight="bold">14-mar</text>
<text transform="translate(863.97,1266.10) scale(0.3329,0.3000)" font-size="100" font-weight="bold">01-abr</text>
<text transform="translate(1012.99,1266.10) scale(0.3352,0.3000)" font-size="100" font-weight="bold">19-abr</text>
<text transform="translate(1152.54,1266.10) scale(0.3409,0.3000)" font-size="100" font-weight="bold">07-may</text>
<text transform="translate(1077.84,1135.04) scale(0.3856,0.3634)" font-size="100" font-weight="bold">2018</text>
<text transform="translate(311.33,726.50) scale(0.3669,0.3696)" font-size="100" font-weight="bold">Flowering</text>
<text transform="translate(570.55,729.80) scale(0.3780,0.3681)" font-size="100" font-weight="bold">F-drop</text>
<text transform="translate(767.04,729.80) scale(0.3659,0.3681)" font-size="100" font-weight="bold">Growth</text>
<text transform="translate(1140.14,697.20) scale(0.3799,0.3768)" font-size="100" font-weight="bold">Harvest</text>
<text transform="translate(609.45,1328.65) scale(0.4107,0.4691)" font-size="100" font-weight="bold">(</text>
<text transform="translate(627.15,1329.80) scale(0.4500,0.4712)" font-size="100" font-weight="bold">b</text>
<text transform="translate(656.00,1328.65) scale(0.3964,0.4691)" font-size="100" font-weight="bold">)</text>
<g transform="translate(7.1,1054.8) rotate(-90)">
<text transform="translate(-0.12,37.70) scale(0.3210,0.3333)" font-size="100" font-weight="bold">VWC</text>
<text transform="translate(71.85,37.70) scale(0.4357,0.3333)" font-size="100" font-weight="bold">,</text>
<text transform="translate(94.79,37.70) scale(0.3447,0.3396)" font-size="100" font-weight="bold">m</text>
<text transform="translate(137.26,37.70) scale(0.3487,0.3396)" font-size="100" font-weight="bold">m</text>
<text transform="translate(126.61,26.27) scale(0.1960,0.2296)" font-size="100" font-weight="bold">3</text>
<text transform="translate(175.58,26.27) scale(0.2120,0.2296)" font-size="100" font-weight="bold">3</text>
<rect x="169.1" y="19.2" width="2.9" height="3.2" fill="#000"/>
</g>
</g>
</svg>
</body></html>
